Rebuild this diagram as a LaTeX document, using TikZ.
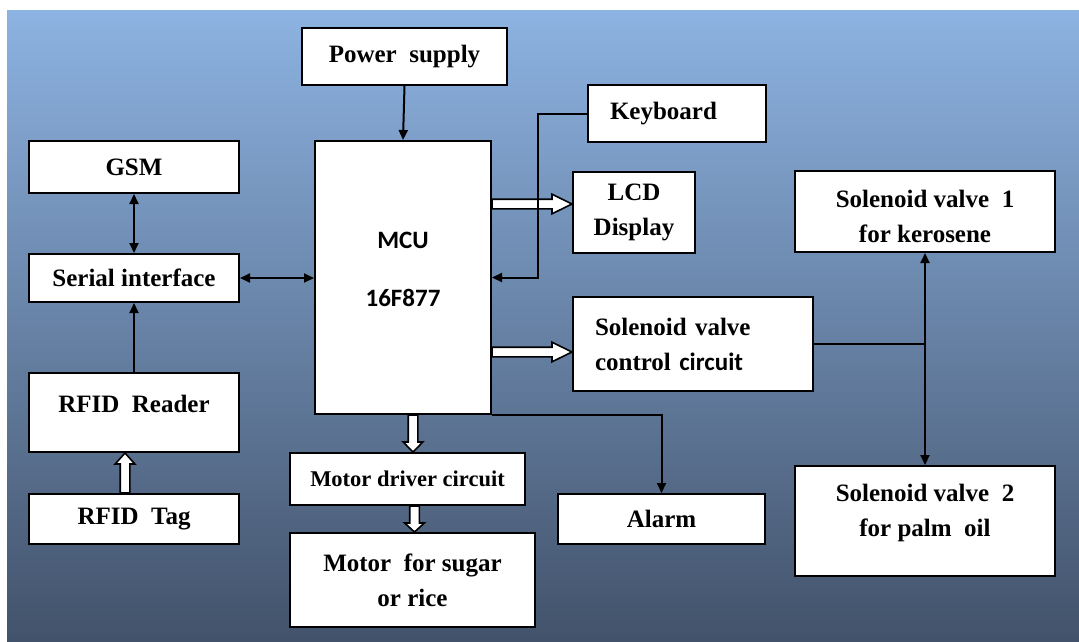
\documentclass[tikz,border=0pt]{standalone}
\usepackage{fontspec}
\setmainfont{Liberation Serif}
\newfontfamily\calib{Carlito}
\usetikzlibrary{arrows.meta,calc}

\definecolor{bgtop}{RGB}{141,179,226}
\definecolor{bgmid}{RGB}{110,141,180}
\definecolor{bgbot}{RGB}{66,82,106}

\tikzset{
  blk/.style={draw, fill=white, line width=2pt, inner sep=0pt, align=center,
    font=\bfseries\fontsize{25}{35}\selectfont},
  fat/.style={draw, fill=white, line width=1.6pt, line join=miter},
  link/.style={line width=2pt, >={Triangle[length=10pt,width=9pt]}},
}

% hollow block arrow from #2 to #3, head length #1
\newcommand{\fatarrow}[3][11]{%
  \coordinate (fs) at (#2);
  \coordinate (ft) at (#3);
  \coordinate (fb) at ($(ft)!#1pt!(fs)$);
  \draw[fat] ($(fs)!4.8pt!90:(ft)$) -- ($(fb)!4.8pt!90:(ft)$) -- ($(fb)!9.8pt!90:(ft)$) -- (ft)
    -- ($(fb)!9.8pt!-90:(ft)$) -- ($(fb)!4.8pt!-90:(ft)$) -- ($(fs)!4.8pt!-90:(ft)$) -- cycle;}

\begin{document}
\begin{tikzpicture}[x=1pt, y=-1pt]
\useasboundingbox (0,0) rectangle (1079,641);
\fill[white] (0,0) rectangle (1079,641);
\shade[top color=bgtop, middle color=bgmid, bottom color=bgbot] (7,10) rectangle (1079,641);

% blocks
\node (power) [blk, minimum width=205pt, minimum height=57pt] at (404.5,56.5) {Power\ \ supply};
\node (gsm) [blk, minimum width=210pt, minimum height=52pt] at (134,167) {GSM};
\node (serial) [blk, minimum width=210pt, minimum height=48pt] at (134,278) {Serial interface};
\node (reader) [blk, minimum width=210pt, minimum height=79pt, text depth=18pt] at (134,412.5) {RFID\ \ Reader};
\node (tag) [blk, minimum width=210pt, minimum height=50pt] at (134,519) {RFID\ \ Tag};
\node (mcu) [blk, minimum width=176pt, minimum height=273pt, text depth=17pt,
  font=\calib\bfseries\fontsize{25}{35}\selectfont] at (403,277.5) {MCU\\[23pt]16F877};
\node (driver) [blk, minimum width=235pt, minimum height=52pt,
  font=\bfseries\fontsize{22.5}{30}\selectfont] at (407.5,479) {Motor driver circuit};
\node (motor) [blk, minimum width=245pt, minimum height=94pt] at (412.5,580) {Motor\ \ for sugar\\or rice};
\node (kbd) [blk, minimum width=178pt, minimum height=57pt, text width=134pt, align=left] at (677,113.5) {Keyboard};
\node (lcd) [blk, minimum width=122pt, minimum height=81pt] at (634,212.5) {LCD\\Display};
\node (svc) [blk, minimum width=240pt, minimum height=94pt, text width=196pt, align=left] at (693,344) {Solenoid valve\\control\ {\calib circuit}};
\node (alarm) [blk, minimum width=207pt, minimum height=50pt] at (661.5,519) {Alarm};
\node (sv1) [blk, minimum width=260pt, minimum height=81pt, text height=62pt] at (925,211.5) {Solenoid valve\ \ 1\\for kerosene};
\node (sv2) [blk, minimum width=260pt, minimum height=110pt, text depth=21pt] at (925,521) {Solenoid valve\ \ 2\\for palm\ \ oil};

% block arrows
\coordinate (m2l) at ($(lcd.west)+(0,-8.5)$);
\fatarrow[20]{m2l -| mcu.east}{m2l};
\coordinate (m2s) at ($(svc.west)+(0,8)$);
\fatarrow[20]{m2s -| mcu.east}{m2s};
\coordinate (m2d) at ($(mcu.south)+(10,0)$);
\fatarrow[10]{m2d}{m2d |- driver.north};
\coordinate (d2m) at ($(driver.south)+(7,0)$);
\fatarrow[9]{d2m}{d2m |- motor.north};
\coordinate (t2r) at ($(tag.north)+(-9,0)$);
\fatarrow[11]{t2r}{t2r |- reader.south};

% links
\draw[link, ->] (power.south) -- (mcu.north);
\draw[link, <->] (gsm.south) -- (serial.north);
\draw[link, <->] (serial.east) -- (mcu.west |- serial.east);
\draw[link, ->] (reader.north) -- (serial.south);
\draw[link, ->] (kbd.west) -- ++(-49,0) |- (mcu.east);
\draw[link, ->] (mcu.south east) -| (alarm.north);
\draw[link] (svc.east) -- (svc.east -| sv1.south);
\draw[link, <->] (sv1.south) -- (sv2.north);
\end{tikzpicture}
\end{document}
